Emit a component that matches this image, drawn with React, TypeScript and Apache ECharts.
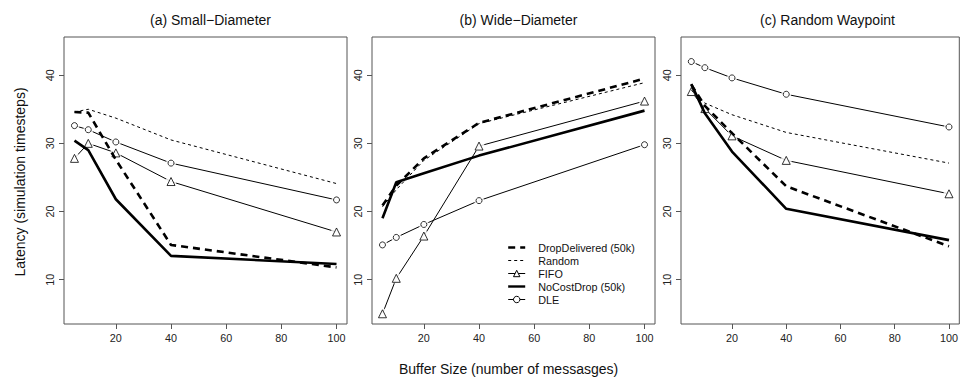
import React, { useEffect, useRef } from "react";
import * as echarts from "echarts";

const bufferSizes = [5, 10, 20, 40, 100];
const xTicks = [20, 40, 60, 80, 100];
const yTicks = [10, 20, 30, 40];
const panelTitles = ["(a) Small\u2212Diameter", "(b) Wide\u2212Diameter", "(c) Random Waypoint"];
const seriesNames = ["DropDelivered (50k)", "Random", "FIFO", "NoCostDrop (50k)", "DLE"];

// (a) Small-Diameter
const dropDeliveredSmall = [34.6, 34.5, 27.6, 15.1, 11.8];
const randomSmall = [34.6, 35.0, 33.7, 30.5, 24.1];
const fifoSmall = [27.8, 30.0, 28.6, 24.4, 17.0];
const noCostDropSmall = [30.4, 29.0, 21.8, 13.5, 12.3];
const dleSmall = [32.6, 32.0, 30.2, 27.1, 21.7];

// (b) Wide-Diameter
const dropDeliveredWide = [20.9, 23.8, 27.8, 33.0, 39.5];
const randomWide = [20.7, 23.2, 27.5, 32.9, 38.9];
const fifoWide = [5.0, 10.2, 16.4, 29.6, 36.2];
const noCostDropWide = [19.0, 24.3, 25.6, 28.2, 34.8];
const dleWide = [15.1, 16.2, 18.1, 21.6, 29.8];

// (c) Random Waypoint
const dropDeliveredRwp = [38.6, 35.5, 31.5, 23.7, 14.9];
const randomRwp = [37.8, 35.9, 34.2, 31.6, 27.1];
const fifoRwp = [37.6, 35.1, 31.1, 27.5, 22.6];
const noCostDropRwp = [38.7, 34.4, 28.8, 20.4, 15.8];
const dleRwp = [42.0, 41.1, 39.6, 37.2, 32.4];

const panels = [
  [dropDeliveredSmall, randomSmall, fifoSmall, noCostDropSmall, dleSmall],
  [dropDeliveredWide, randomWide, fifoWide, noCostDropWide, dleWide],
  [dropDeliveredRwp, randomRwp, fifoRwp, noCostDropRwp, dleRwp],
];

const FONT = "'Liberation Sans', Arial, Helvetica, sans-serif";
const gridLefts = [64, 372, 681];
const GRID_TOP = 37;
const GRID_W = 283;
const GRID_H = 287;

const styles: any[] = [
  { lineStyle: { color: "#000", width: 2.6, type: [7, 5] }, symbol: "none", z: 6 },
  { lineStyle: { color: "#000", width: 1, type: [3, 3] }, symbol: "none", z: 5 },
  { lineStyle: { color: "#000", width: 1, type: "solid" }, symbol: "triangle", symbolSize: 8, halo: 11, z: 2 },
  { lineStyle: { color: "#000", width: 2.6, type: "solid" }, symbol: "none", z: 6 },
  { lineStyle: { color: "#000", width: 1, type: "solid" }, symbol: "circle", symbolSize: 6, halo: 10, z: 2 },
];

export default function App() {
  const ref = useRef<HTMLDivElement>(null);
  useEffect(() => {
    if (!ref.current) return;
    const chart = echarts.init(ref.current, undefined, { renderer: "svg" });

    const grids = gridLefts.map((left) => ({
      left,
      top: GRID_TOP,
      width: GRID_W,
      height: GRID_H,
      show: true,
      borderColor: "#555",
      borderWidth: 1,
      backgroundColor: "transparent",
    }));

    const xAxes = gridLefts.map((_, i) => ({
      type: "value",
      gridIndex: i,
      min: 1.2,
      max: 103.8,
      axisLine: { show: false },
      splitLine: { show: false },
      axisTick: { show: true, customValues: xTicks, length: 5, inside: false, lineStyle: { color: "#555" } },
      axisLabel: { customValues: xTicks, fontSize: 10.8, color: "#222", margin: 8, fontFamily: FONT },
    }));

    const yAxes = gridLefts.map((_, i) => ({
      type: "value",
      gridIndex: i,
      min: 3.5,
      max: 45.6,
      axisLine: { show: false },
      splitLine: { show: false },
      axisTick: { show: true, customValues: yTicks, length: 5, inside: false, lineStyle: { color: "#555" } },
      axisLabel: { customValues: yTicks, fontSize: 10.8, color: "#222", margin: 9, rotate: 90, fontFamily: FONT },
    }));

    const series: any[] = [];
    panels.forEach((panel, pi) => {
      panel.forEach((vals, si) => {
        const st = styles[si];
        const pts = bufferSizes.map((x, k) => [x, vals[k]]);
        series.push({
          type: "line",
          name: seriesNames[si],
          xAxisIndex: pi,
          yAxisIndex: pi,
          data: pts,
          symbol: st.symbol,
          symbolSize: st.symbolSize,
          showSymbol: false,
          lineStyle: st.lineStyle,
          itemStyle: { color: "#fff", borderColor: "#000", borderWidth: 1 },
          z: st.z,
          silent: true,
        });
        if (st.halo) {
          series.push({
            type: "scatter",
            name: seriesNames[si] + " gap",
            xAxisIndex: pi,
            yAxisIndex: pi,
            data: pts,
            symbol: "circle",
            symbolSize: st.halo,
            itemStyle: { color: "#fff", borderWidth: 0 },
            z: 3,
            silent: true,
          });
          series.push({
            type: "scatter",
            name: seriesNames[si] + " marker",
            xAxisIndex: pi,
            yAxisIndex: pi,
            data: pts,
            symbol: st.symbol,
            symbolSize: st.symbolSize,
            itemStyle: { color: "#fff", borderColor: "#000", borderWidth: 1 },
            z: 4,
            silent: true,
          });
        }
      });
    });

    chart.setOption({
      animation: false,
      backgroundColor: "#fff",
      textStyle: { fontFamily: FONT },
      title: panelTitles.map((t, i) => ({
        text: t,
        left: gridLefts[i] + GRID_W / 2,
        top: 8,
        textAlign: "center",
        textStyle: { fontSize: 14, fontWeight: "normal", color: "#111", fontFamily: FONT },
      })),
      grid: grids,
      xAxis: xAxes,
      yAxis: yAxes,
      legend: {
        orient: "vertical",
        left: 502,
        top: 236,
        itemWidth: 17,
        itemHeight: 8,
        itemGap: 0,
        textStyle: { fontSize: 10.8, color: "#111", fontFamily: FONT, lineHeight: 13, padding: [0, 0, 0, 8] },
        data: seriesNames.map((n, i) => {
          const hasSym = styles[i].symbol !== "none";
          return {
            name: n,
            lineStyle: { width: i === 0 || i === 3 ? 2.4 : 1 },
            itemStyle: hasSym
              ? { color: "#fff", borderColor: "#000", borderWidth: 1 }
              : { color: "rgba(0,0,0,0)", borderColor: "rgba(0,0,0,0)", borderWidth: 0, opacity: 0 },
          };
        }),
        selectedMode: false,
      },
      graphic: [
        {
          type: "text",
          x: 20,
          y: 182,
          rotation: Math.PI / 2,
          style: {
            text: "Latency (simulation timesteps)",
            fontSize: 14,
            fontFamily: FONT,
            fill: "#111",
            textAlign: "center",
            textVerticalAlign: "middle",
          },
        },
        {
          type: "text",
          x: 399,
          y: 369,
          style: {
            text: "Buffer Size (number of messasges)",
            fontSize: 14,
            fontFamily: FONT,
            fill: "#111",
            textAlign: "left",
            textVerticalAlign: "middle",
          },
        },
      ],
      series,
    });
    return () => chart.dispose();
  }, []);
  return (
    <div
      ref={ref}
      style={{ position: "absolute", left: 0, top: 0, width: 961, height: 381 }}
    />
  );
}
